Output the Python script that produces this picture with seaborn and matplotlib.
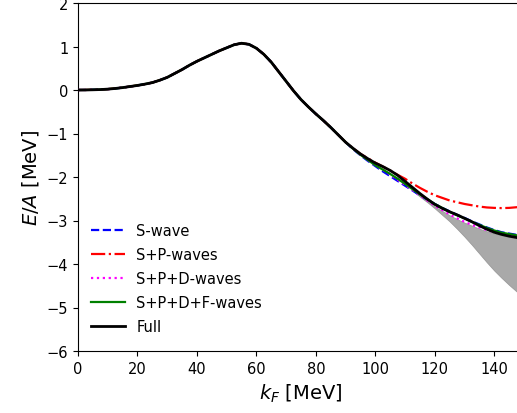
import matplotlib
matplotlib.use("Agg")
import matplotlib.pyplot as plt
import seaborn as sns
import numpy as np
import pandas as pd

# Fermi momentum grid [MeV]
k_low = [0, 2.5, 5, 7.5, 10, 12.5, 15, 17.5, 20, 22.5, 25, 27.5, 30, 32.5, 35, 37.5, 40,
         42.5, 45, 47.5, 50, 52.5, 55, 57.5, 60, 62.5, 65, 67.5, 70, 72.5, 75, 77.5, 80,
         82.5, 85, 87.5, 90]
k_high = [92.5, 95, 97.5, 100, 102.5, 105, 107.5, 110, 112.5, 115, 117.5, 120, 122.5, 125,
          127.5, 130, 132.5, 135, 137.5, 140, 142.5, 145, 147.5, 148]

# Shared low-k part (all partial waves coincide)
e_low = [0.0, 0.001, 0.005, 0.01, 0.02, 0.035, 0.055, 0.08, 0.105, 0.135, 0.17, 0.225, 0.29,
         0.38, 0.47, 0.57, 0.66, 0.74, 0.82, 0.90, 0.97, 1.04, 1.075, 1.05, 0.96, 0.82, 0.64,
         0.42, 0.20, -0.02, -0.22, -0.39, -0.55, -0.70, -0.86, -1.03, -1.20]

full_high = [-1.34, -1.47, -1.58, -1.68, -1.76, -1.85, -1.96, -2.10, -2.24, -2.38, -2.51, -2.63,
             -2.72, -2.80, -2.87, -2.95, -3.03, -3.12, -3.20, -3.27, -3.32, -3.36, -3.39, -3.40]
s_high = [-1.36, -1.50, -1.63, -1.75, -1.87, -1.98, -2.09, -2.20, -2.31, -2.42, -2.52, -2.62,
          -2.71, -2.79, -2.87, -2.94, -3.02, -3.09, -3.16, -3.22, -3.27, -3.30, -3.33, -3.33]
sp_high = [-1.34, -1.47, -1.57, -1.67, -1.76, -1.85, -1.95, -2.04, -2.15, -2.25, -2.34, -2.42,
           -2.48, -2.54, -2.58, -2.62, -2.65, -2.68, -2.70, -2.71, -2.715, -2.71, -2.695, -2.69]
spd_high = [-1.35, -1.49, -1.61, -1.73, -1.83, -1.94, -2.06, -2.18, -2.30, -2.42, -2.54, -2.66,
            -2.76, -2.86, -2.95, -3.03, -3.10, -3.16, -3.22, -3.27, -3.31, -3.34, -3.37, -3.37]
spdf_high = [-1.35, -1.49, -1.61, -1.73, -1.83, -1.93, -2.04, -2.16, -2.28, -2.40, -2.51, -2.62,
             -2.71, -2.80, -2.88, -2.95, -3.03, -3.10, -3.17, -3.23, -3.28, -3.31, -3.34, -3.34]

# Uncertainty band
k_band = [112.5, 115, 117.5, 120, 122.5, 125, 127.5, 130, 132.5, 135, 137.5, 140, 142.5, 145, 148]
band_upper = [-2.31, -2.43, -2.56, -2.68, -2.78, -2.88, -2.97, -3.05, -3.12, -3.19, -3.25,
              -3.30, -3.34, -3.38, -3.42]
band_lower = [-2.31, -2.45, -2.58, -2.72, -2.87, -3.02, -3.19, -3.37, -3.56, -3.76, -3.96,
              -4.15, -4.32, -4.48, -4.66]

labels = ["S-wave", "S+P-waves", "S+P+D-waves", "S+P+D+F-waves", "Full"]
colors = ["blue", "red", "magenta", "green", "black"]
styles = ["--", "-.", ":", "-", "-"]
widths = [1.6, 1.6, 1.6, 1.6, 2.0]
tails = [s_high, sp_high, spd_high, spdf_high, full_high]

k_all = k_low + k_high

plt.rcParams['font.family'] = ['DejaVu Sans']
fig = plt.figure(figsize=(5.17, 4.14), dpi=100)
ax = fig.add_axes([78 / 517, 62 / 414, 446 / 517, 348 / 414])

ax.fill_between(k_band, band_lower, band_upper, color="#a9a9a9", edgecolor="#9a9a9a",
                linewidth=0.6, zorder=1)

for lab, col, ls, lw, tail in zip(labels, colors, styles, widths, tails):
    df = pd.DataFrame({"k": k_all, "E": e_low + tail})
    sns.lineplot(data=df, x="k", y="E", ax=ax, color=col, linestyle=ls, linewidth=lw,
                 label=lab, zorder=3 if lab != "Full" else 4, sort=True)

ax.set_xlim(0, 150)
ax.set_ylim(-6, 2)
ax.set_xticks([0, 20, 40, 60, 80, 100, 120, 140])
ax.set_yticks([-6, -5, -4, -3, -2, -1, 0, 1, 2])
ax.tick_params(labelsize=10.5)
ax.set_xlabel(r"$k_F$ [MeV]", fontsize=14)
ax.set_ylabel(r"$E/A$ [MeV]", fontsize=14)
ax.legend(loc="lower left", frameon=False, fontsize=10.5, handlelength=2.3,
          labelspacing=0.62, bbox_to_anchor=(0.0, 0.01))

fig.savefig("out.png", dpi=100)
